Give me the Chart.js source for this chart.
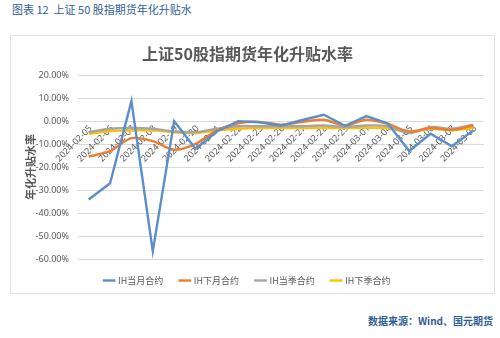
<!DOCTYPE html>
<html>
<head>
<meta charset="utf-8">
<script src="https://cdn.jsdelivr.net/npm/chart.js@4/dist/chart.umd.min.js"></script>
<style>
  html, body { margin: 0; padding: 0; background: #fff; }
  body { width: 500px; height: 338px; position: relative; overflow: hidden;
         font-family: "Noto Sans CJK SC", "Noto Sans", sans-serif; }
  #caption { position: absolute; left: 12px; top: 1px; font-size: 11px; color: #2f5e96; }
  #box { position: absolute; left: 10px; top: 35px; width: 485px; height: 259px;
         border: 1px solid #e3e3e3; box-sizing: border-box; background: #fff; }
  #box canvas { position: absolute; left: 0; top: 0; }
  #source { position: absolute; right: 7px; top: 313px; font-size: 10px; font-weight: bold; color: #2f5e96; }
</style>
</head>
<body>
<div id="caption">图表 12&nbsp; 上证 50 股指期货年化升贴水</div>
<div id="box"><canvas id="chart" width="485" height="259"></canvas></div>
<div id="source">数据来源：Wind、国元期货</div>
<script>
// ── Data ─────────────────────────────────────────────────────────────────────
const DATES = [
  '2024-02-05','2024-02-06','2024-02-07','2024-02-08','2024-02-19','2024-02-20',
  '2024-02-21','2024-02-22','2024-02-23','2024-02-26','2024-02-27','2024-02-28',
  '2024-02-29','2024-03-01','2024-03-04','2024-03-05','2024-03-06','2024-03-07','2024-03-08',
];
const IH_CUR_MONTH  = [-34.1,-27.0,8.7,-56.6,0.0,-12.0,-4.5,0.0,-0.5,-2.0,0.5,2.8,-2.0,2.2,-1.0,-13.0,-5.5,-10.9,-4.0];
const IH_NEXT_MONTH = [-15.4,-13.0,-7.4,-8.7,-12.5,-9.9,-4.0,-0.9,-0.3,-1.5,-0.3,0.6,-1.9,0.6,-1.2,-4.5,-3.0,-3.8,-1.9];
const IH_CUR_QTR    = [-4.8,-3.3,-3.0,-3.3,-4.5,-4.8,-3.3,-2.2,-2.2,-2.2,-2.2,-1.9,-2.6,-1.9,-2.2,-5.2,-2.6,-3.3,-1.5];
const IH_NEXT_QTR   = [-5.5,-4.4,-4.0,-4.0,-4.8,-5.2,-4.0,-3.3,-3.0,-3.0,-3.0,-3.0,-3.0,-2.9,-3.0,-4.8,-3.3,-4.0,-3.0];
const Y_MIN = -60, Y_MAX = 20, Y_STEP = 10;

// ── Colours ──────────────────────────────────────────────────────────────────
const C_BLUE = '#5b8fc9', C_ORANGE = '#ed7d31', C_GRAY = '#a5a5a5', C_YELLOW = '#ffc000';
const TXT = '#595959';

// Category labels sit on the zero line, rotated like the spreadsheet axis
const zeroAxisLabels = {
  id: 'zeroAxisLabels',
  beforeDatasetsDraw(chart) {
    const { ctx, scales: { x, y } } = chart;
    const y0 = y.getPixelForValue(0);
    ctx.save();
    ctx.font = '9px "Noto Sans", sans-serif';
    ctx.fillStyle = TXT;
    ctx.textAlign = 'right';
    ctx.textBaseline = 'middle';
    DATES.forEach((d, i) => {
      const px = x.getPixelForValue(i);
      ctx.save();
      ctx.translate(px + 2, y0 + 6);
      ctx.rotate(-Math.PI / 4);
      ctx.fillText(d, 0, 0);
      ctx.restore();
    });
    ctx.restore();
  },
};

function series(label, data, color, tension) {
  return {
    label, data,
    borderColor: color, backgroundColor: color,
    borderWidth: 2.4, pointRadius: 0, tension,
    cubicInterpolationMode: 'default',
  };
}

new Chart(document.getElementById('chart'), {
  type: 'line',
  data: {
    labels: DATES,
    datasets: [
      series('IH当月合约', IH_CUR_MONTH, C_BLUE, 0),
      series('IH下月合约', IH_NEXT_MONTH, C_ORANGE, 0.3),
      series('IH当季合约', IH_CUR_QTR, C_GRAY, 0.3),
      series('IH下季合约', IH_NEXT_QTR, C_YELLOW, 0.3),
    ],
  },
  options: {
    responsive: false,
    animation: false,
    layout: { padding: { left: 0, right: 12, top: 0, bottom: 0 } },
    plugins: {
      title: {
        display: true,
        text: '上证50股指期货年化升贴水率',
        color: TXT,
        font: { family: '"Noto Sans CJK SC", sans-serif', size: 16, weight: 'bold' },
        padding: { top: 8, bottom: 12 },
      },
      legend: {
        position: 'bottom',
        labels: {
          color: TXT,
          font: { family: '"Noto Sans CJK SC", sans-serif', size: 9 },
          usePointStyle: true,
          pointStyle: 'line',
          boxWidth: 20,
          padding: 17,
        },
      },
      tooltip: { enabled: false },
    },
    scales: {
      x: {
        display: false,
        offset: true,
      },
      y: {
        min: Y_MIN, max: Y_MAX,
        border: { display: false },
        grid: { color: '#d9d9d9', drawTicks: false },
        ticks: {
          stepSize: Y_STEP,
          padding: 9,
          color: TXT,
          font: { family: '"Noto Sans", sans-serif', size: 9 },
          callback: v => v.toFixed(2) + '%',
        },
        title: {
          display: true,
          text: '年化升贴水率',
          color: TXT,
          font: { family: '"Noto Sans CJK SC", sans-serif', size: 11, weight: 'bold' },
          padding: { top: 13, bottom: 0 },
        },
        afterFit: s => { s.width = 67; },
      },
    },
  },
  plugins: [zeroAxisLabels],
});
</script>
</body>
</html>
